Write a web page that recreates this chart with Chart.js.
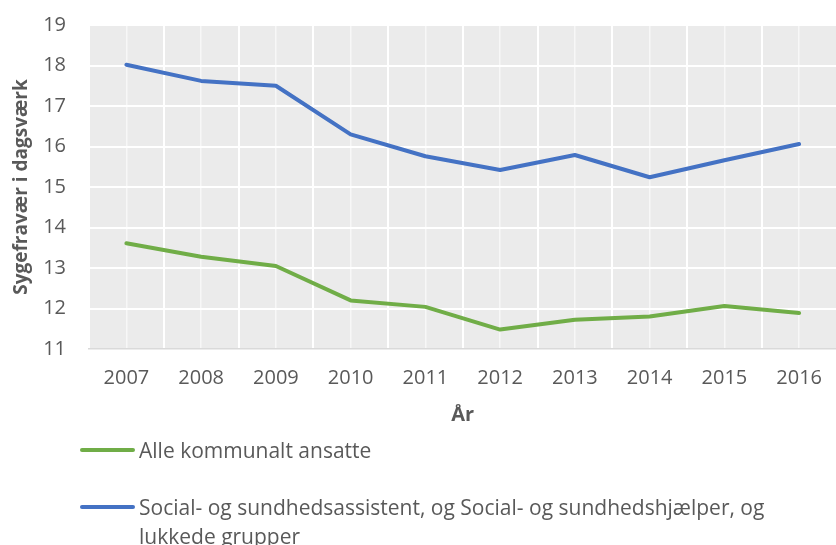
<!DOCTYPE html>
<html>
<head>
<meta charset="utf-8">
<script src="https://cdn.jsdelivr.net/npm/chart.js@4"></script>
<style>
  html, body { margin: 0; padding: 0; overflow: hidden; background: #fff; }
  #wrap { position: relative; width: 839px; height: 545px; }
  #legend { position: absolute; left: 0; top: 0; font-family: "Open Sans", sans-serif; font-size: 21px; color: #595959; }
  .item { position: absolute; left: 80px; display: flex; align-items: flex-start; }
  .swatch { width: 55px; height: 4px; border-radius: 2px; margin-right: 4px; flex: none; }
  .txt { width: 650px; line-height: 29px; }
</style>
</head>
<body>
<div id="wrap">
  <canvas id="chart" width="839" height="545"></canvas>
  <div id="legend"></div>
</div>
<script>
// === Data ===
const years = ["2007", "2008", "2009", "2010", "2011", "2012", "2013", "2014", "2015", "2016"];
const alleAnsatte = [13.61, 13.28, 13.05, 12.2, 12.04, 11.48, 11.72, 11.8, 12.06, 11.89];
const sosuGrupper = [18.02, 17.62, 17.5, 16.3, 15.76, 15.42, 15.79, 15.24, 15.66, 16.06];
const seriesNames = [
  "Alle kommunalt ansatte",
  "Social- og sundhedsassistent, og Social- og sundhedshjælper, og lukkede grupper",
];
const seriesColors = ["#70AD47", "#4472C4"];

const textColor = "#595959";
const font = "'Open Sans', sans-serif";

// === Gray plot background ===
const plotBg = {
  id: "plotBg",
  beforeDraw(chart) {
    const { ctx, chartArea: a } = chart;
    ctx.save();
    ctx.fillStyle = "#EBEBEB";
    ctx.fillRect(a.left, a.top, a.right - a.left, a.bottom - a.top);
    ctx.restore();
  },
};

const ctx = document.getElementById("chart").getContext("2d");

new Chart(ctx, {
  type: "line",
  data: {
    labels: years,
    datasets: [
      {
        label: seriesNames[0],
        data: alleAnsatte,
        borderColor: seriesColors[0],
        backgroundColor: seriesColors[0],
        borderWidth: 4,
        pointRadius: 0,
        tension: 0,
        borderCapStyle: "round",
        borderJoinStyle: "round",
      },
      {
        label: seriesNames[1],
        data: sosuGrupper,
        borderColor: seriesColors[1],
        backgroundColor: seriesColors[1],
        borderWidth: 4,
        pointRadius: 0,
        tension: 0,
        borderCapStyle: "round",
        borderJoinStyle: "round",
      },
    ],
  },
  options: {
    responsive: false,
    animation: false,
    layout: { padding: { top: 25, right: 0, bottom: 118, left: 0 } },
    plugins: {
      legend: { display: false },
      tooltip: { enabled: false },
    },
    scales: {
      x: {
        offset: true,
        grid: { offset: true, color: "#FFFFFF", lineWidth: 2, drawTicks: false },
        border: { display: true, color: "#D9D9D9", width: 1.5 },
        ticks: { color: textColor, font: { family: font, size: 20 }, padding: 17, maxRotation: 0 },
        title: {
          display: true,
          text: "År",
          color: textColor,
          font: { family: font, size: 20, weight: "bold" },
          padding: { top: 13, bottom: 0 },
        },
        afterFit(scale) {
          scale.height = 78;
        },
      },
      x2: {
        position: "bottom",
        offset: true,
        grid: { offset: false, color: "rgba(255,255,255,0.6)", lineWidth: 1.5, drawTicks: false },
        border: { display: false },
        ticks: { display: false },
      },
      y: {
        min: 11,
        max: 19,
        ticks: { stepSize: 1, color: textColor, font: { family: font, size: 20 }, padding: 23 },
        grid: { color: "#FFFFFF", lineWidth: 2, drawTicks: false },
        border: { display: false },
        title: {
          display: true,
          text: "Sygefravær i dagsværk",
          color: textColor,
          font: { family: font, size: 19, weight: "bold" },
          padding: { top: 10, bottom: 0 },
        },
        afterFit(scale) {
          scale.width = 89;
          // tick padding should not push the plot area down
          scale.paddingTop = 0;
          scale.paddingBottom = 0;
        },
      },
    },
  },
  plugins: [plotBg],
});

// === HTML legend ===
const legend = document.getElementById("legend");
const legendTops = [436, 493];
seriesNames.forEach((name, i) => {
  const item = document.createElement("div");
  item.className = "item";
  item.style.top = legendTops[i] + "px";
  item.innerHTML = `<span class="swatch" style="background:${seriesColors[i]};margin-top:12px"></span><span class="txt">${name}</span>`;
  legend.appendChild(item);
});
</script>
</body>
</html>
